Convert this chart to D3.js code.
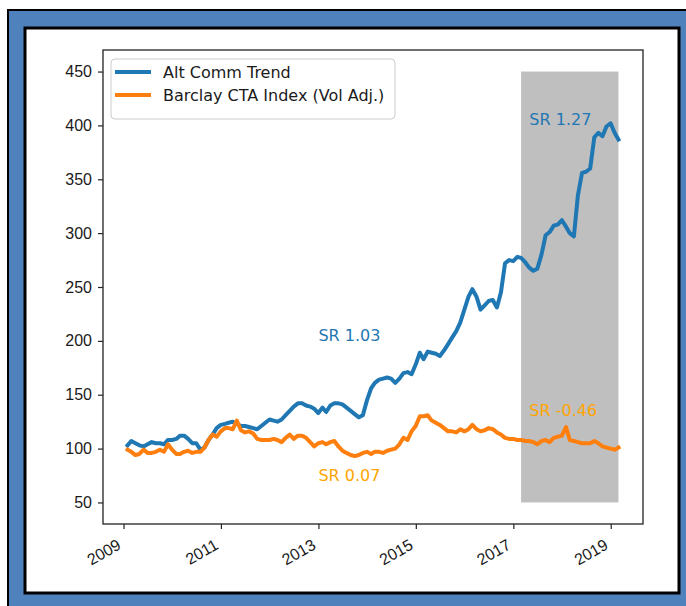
<!DOCTYPE html>
<html>
<head>
<meta charset="utf-8">
<script src="https://cdn.jsdelivr.net/npm/d3@7"></script>
<style>
    body { margin: 0; background: #fff; }
    svg { display: block; font-family: "DejaVu Sans", sans-serif; }
</style>
</head>
<body>
<div id="chart"></div>
<script>

// monthly series, Jan 2009 .. Feb 2019 (month ends)
const altCommTrend = [
    103, 107, 105, 103, 102, 104, 106, 105, 105, 104, 108, 108,
    109, 112, 112, 109, 105, 105, 99, 101, 108, 113, 119, 122,
    123, 124, 125, 123, 121, 121, 120, 119, 118, 121, 124, 127,
    126, 125, 127, 131, 135, 139, 142, 142, 140, 139, 137, 133,
    138, 134, 140, 142, 142, 141, 138, 135, 132, 129, 131, 145,
    156, 161, 164, 165, 166, 165, 161, 165, 170, 171, 169, 178,
    189, 183, 190, 189, 188, 186, 191, 197, 203, 209, 217, 229,
    241, 248, 241, 229, 233, 237, 238, 231, 245, 272, 275, 274,
    278, 277, 273, 268, 265, 267, 280, 298, 301, 307, 308, 312,
    306, 300, 297, 335, 356, 357, 360, 389, 393, 390, 399, 402,
    393, 387
];

const barclayCTA = [
    99, 97, 94, 95, 99, 96, 96, 97, 99, 97, 104, 99,
    95, 95, 97, 98, 96, 97, 97, 101, 108, 113, 111, 116,
    119, 119, 118, 126, 117, 115, 116, 114, 109, 108, 108, 108,
    109, 108, 106, 110, 113, 109, 112, 112, 110, 106, 102, 105,
    106, 104, 106, 107, 102, 98, 96, 94, 93, 94, 96, 97,
    95, 97, 97, 96, 98, 99, 100, 104, 110, 108, 116, 121,
    130, 130, 131, 126, 124, 122, 119, 116, 116, 115, 118, 116,
    118, 122, 118, 116, 117, 119, 118, 115, 113, 110, 109, 109,
    108, 108, 107, 107, 106, 104, 107, 108, 106, 110, 111, 112,
    120, 108, 107, 106, 105, 105, 105, 107, 105, 102, 101, 100,
    99, 101
];

const seriesNames = ["Alt Comm Trend", "Barclay CTA Index (Vol Adj.)"];
const xTickYears = [2009, 2011, 2013, 2015, 2017, 2019];
const yTicks = [50, 100, 150, 200, 250, 300, 350, 400, 450];

// shaded out-of-sample window
const spanStart = new Date(2017, 2, 0);
const spanEnd = new Date(2019, 2, 0);
const spanLow = 50;
const spanHigh = 450;

// Sharpe ratio notes: [text, year, month, value, series]
const notes = [
    ["SR 1.03", 2013, 0, 200, 0],
    ["SR 0.07", 2013, 0, 70, 1],
    ["SR 1.27", 2017, 4, 400, 0],
    ["SR -0.46", 2017, 4, 130, 1]
];


class TrendChart {

    constructor(_parentElement) {
        this.parentElement = _parentElement;
        this.lineColors = ["#1f77b4", "#ff7f0e"];
        this.noteColors = ["#1f77b4", "#ffa500"];
        this.initVis();
    }

    initVis() {
        let vis = this;
        vis.margin = { top: 50, right: 43, bottom: 82, left: 103 };
        vis.width = 686 - vis.margin.left - vis.margin.right;
        vis.height = 606 - vis.margin.top - vis.margin.bottom;

        vis.root = d3.select(`#${vis.parentElement}`)
            .append("svg")
            .attr("width", 686)
            .attr("height", 606);

        // blue frame around the figure
        vis.root.append("rect")
            .attr("x", 8).attr("y", 10)
            .attr("width", 700).attr("height", 620)
            .attr("fill", "#4f81bd")
            .attr("stroke", "#000")
            .attr("stroke-width", 2);

        vis.root.append("rect")
            .attr("x", 25).attr("y", 28)
            .attr("width", 654).attr("height", 565)
            .attr("fill", "#fff")
            .attr("stroke", "#000")
            .attr("stroke-width", 3);

        vis.svg = vis.root.append("g")
            .attr("transform", `translate(${vis.margin.left}, ${vis.margin.top})`);

        vis.dates = altCommTrend.map((d, i) => new Date(2009, i + 1, 0));

        // matplotlib-like 5% padding on the x range
        let ext = d3.extent(vis.dates);
        let pad = (ext[1] - ext[0]) * 0.05;
        vis.x = d3.scaleTime()
            .domain([new Date(+ext[0] - pad), new Date(+ext[1] + pad)])
            .range([0, vis.width]);

        vis.y = d3.scaleLinear()
            .domain([30, 470])
            .range([vis.height, 0]);

        vis.drawSpan();
        vis.drawLines();
        vis.drawAxes();
        vis.drawNotes();
        vis.drawLegend();
    }

    drawSpan() {
        let vis = this;
        vis.svg.append("rect")
            .attr("x", vis.x(spanStart))
            .attr("y", vis.y(spanHigh))
            .attr("width", vis.x(spanEnd) - vis.x(spanStart))
            .attr("height", vis.y(spanLow) - vis.y(spanHigh))
            .attr("fill", "#bfbfbf");
    }

    drawLines() {
        let vis = this;
        let line = d3.line()
            .x((d, i) => vis.x(vis.dates[i]))
            .y(d => vis.y(d));

        vis.svg.selectAll(".series")
            .data([altCommTrend, barclayCTA])
            .enter().append("path")
            .attr("class", "series")
            .attr("d", line)
            .attr("fill", "none")
            .attr("stroke", (d, i) => vis.lineColors[i])
            .attr("stroke-width", 4)
            .attr("stroke-linejoin", "round")
            .attr("stroke-linecap", "square");
    }

    drawAxes() {
        let vis = this;

        let xAxis = d3.axisBottom(vis.x)
            .tickValues(xTickYears.map(y => new Date(y, 0, 1)))
            .tickFormat(d3.timeFormat("%Y"))
            .tickSizeOuter(0)
            .tickSize(5);

        let xg = vis.svg.append("g")
            .attr("transform", `translate(0, ${vis.height})`)
            .call(xAxis);

        xg.selectAll("text")
            .attr("font-size", 16)
            .attr("fill", "#1a1a1a")
            .attr("text-anchor", "end")
            .attr("dy", null)
            .attr("y", null)
            .attr("transform", "translate(-2, 24) rotate(-30)");

        let yAxis = d3.axisLeft(vis.y)
            .tickValues(yTicks)
            .tickSizeOuter(0)
            .tickSize(5)
            .tickPadding(6);

        let yg = vis.svg.append("g").call(yAxis);
        yg.selectAll("text").attr("font-size", 16).attr("fill", "#1a1a1a");

        [xg, yg].forEach(g => {
            g.select(".domain").remove();
            g.selectAll("line").attr("stroke", "#222").attr("stroke-width", 1.2);
        });

        // full box frame
        vis.svg.append("rect")
            .attr("width", vis.width)
            .attr("height", vis.height)
            .attr("fill", "none")
            .attr("stroke", "#222")
            .attr("stroke-width", 1.3);
    }

    drawNotes() {
        let vis = this;
        vis.svg.selectAll(".note")
            .data(notes)
            .enter().append("text")
            .attr("class", "note")
            .attr("x", d => vis.x(new Date(d[1], d[2], 1)))
            .attr("y", d => vis.y(d[3]))
            .attr("font-size", 16)
            .attr("fill", d => vis.noteColors[d[4]])
            .text(d => d[0]);
    }

    drawLegend() {
        let vis = this;
        let lg = vis.svg.append("g").attr("transform", "translate(8, 9)");

        lg.append("rect")
            .attr("width", 284)
            .attr("height", 60)
            .attr("rx", 4)
            .attr("fill", "#fff")
            .attr("fill-opacity", 0.8)
            .attr("stroke", "#cccccc");

        let items = lg.selectAll(".item")
            .data(seriesNames)
            .enter().append("g")
            .attr("class", "item")
            .attr("transform", (d, i) => `translate(0, ${13 + i * 23})`);

        items.append("line")
            .attr("x1", 4).attr("x2", 40)
            .attr("stroke", (d, i) => vis.lineColors[i])
            .attr("stroke-width", 4);

        items.append("text")
            .attr("x", 52)
            .attr("y", 6)
            .attr("font-size", 16)
            .attr("fill", "#1a1a1a")
            .text(d => d);
    }
}

new TrendChart("chart");
</script>
</body>
</html>
